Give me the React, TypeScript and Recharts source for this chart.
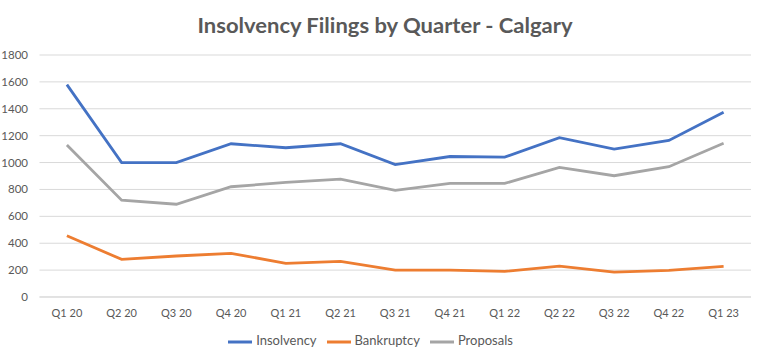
import React from "react";
import { LineChart, Line, XAxis, YAxis, CartesianGrid, Legend } from "recharts";

const quarters = ["Q1 20", "Q2 20", "Q3 20", "Q4 20", "Q1 21", "Q2 21", "Q3 21", "Q4 21", "Q1 22", "Q2 22", "Q3 22", "Q4 22", "Q1 23"];
const insolvency = [1580, 1000, 1000, 1140, 1110, 1140, 985, 1045, 1040, 1185, 1100, 1165, 1375];
const bankruptcy = [455, 280, 305, 325, 250, 265, 200, 200, 190, 230, 185, 198, 228];
const proposals = [1130, 720, 690, 820, 852, 877, 793, 845, 845, 964, 902, 969, 1143];
const yTicks = [0, 200, 400, 600, 800, 1000, 1200, 1400, 1600, 1800];
const seriesOrder = ["Insolvency", "Bankruptcy", "Proposals"];

const data = quarters.map((q, i) => ({
  q,
  Insolvency: insolvency[i],
  Bankruptcy: bankruptcy[i],
  Proposals: proposals[i],
}));

const FONT = "Lato, 'Open Sans', sans-serif";

const YTick = (props: any) => {
  const { y, payload } = props;
  return (
    <text x={28} y={y} dy={4} textAnchor="end" fontSize={11.5} fill="#595959" fontFamily={FONT}>
      {String(payload.value)}
    </text>
  );
};

const XTick = (props: any) => {
  const { x, y, payload } = props;
  return (
    <text x={x} y={y} dy={10} textAnchor="middle" fontSize={11} fill="#595959" fontFamily={FONT}>
      {payload.value}
    </text>
  );
};

export default function App() {
  return (
    <div style={{ position: "fixed", left: 0, top: 0, width: 763, height: 362, background: "#fff" }}>
      <svg width={763} height={45} style={{ position: "absolute", left: 0, top: 0 }}>
        <text
          x={385}
          y={33}
          textAnchor="middle"
          fontFamily={FONT}
          fontWeight="bold"
          fontSize={21}
          fill="#595959"
          textLength={375}
          lengthAdjust="spacingAndGlyphs"
        >
          Insolvency Filings by Quarter - Calgary
        </text>
      </svg>
      <div style={{ position: "absolute", left: 0, top: 0 }}>
        <LineChart width={763} height={362} data={data} margin={{ top: 55, right: 12, left: 0, bottom: 0 }}>
          <CartesianGrid vertical={false} stroke="#d9d9d9" strokeWidth={1} />
          <XAxis
            dataKey="q"
            height={20}
            axisLine={{ stroke: "#d9d9d9" }}
            tickLine={false}
            tickMargin={4}
            tick={<XTick />}
            interval={0}
            padding={{ left: 27.4, right: 27.4 }}
          />
          <YAxis
            width={39.5}
            domain={[0, 1800]}
            ticks={yTicks}
            axisLine={false}
            tickLine={false}
            tick={<YTick />}
          />
          <Legend
            verticalAlign="bottom"
            height={45}
            iconType="plainline"
            iconSize={24}
            itemSorter={(item: any) => seriesOrder.indexOf(item.value)}
            wrapperStyle={{ top: 330, bottom: "auto", fontFamily: FONT, fontSize: 13, color: "#595959" }}
            formatter={(v: string) => <span style={{ color: "#595959" }}>{v}</span>}
          />
          <Line type="linear" dataKey="Insolvency" stroke="#4472C4" strokeWidth={2.8} dot={false} isAnimationActive={false} />
          <Line type="linear" dataKey="Bankruptcy" stroke="#ED7D31" strokeWidth={2.8} dot={false} isAnimationActive={false} />
          <Line type="linear" dataKey="Proposals" stroke="#A5A5A5" strokeWidth={2.8} dot={false} isAnimationActive={false} />
        </LineChart>
      </div>
    </div>
  );
}
